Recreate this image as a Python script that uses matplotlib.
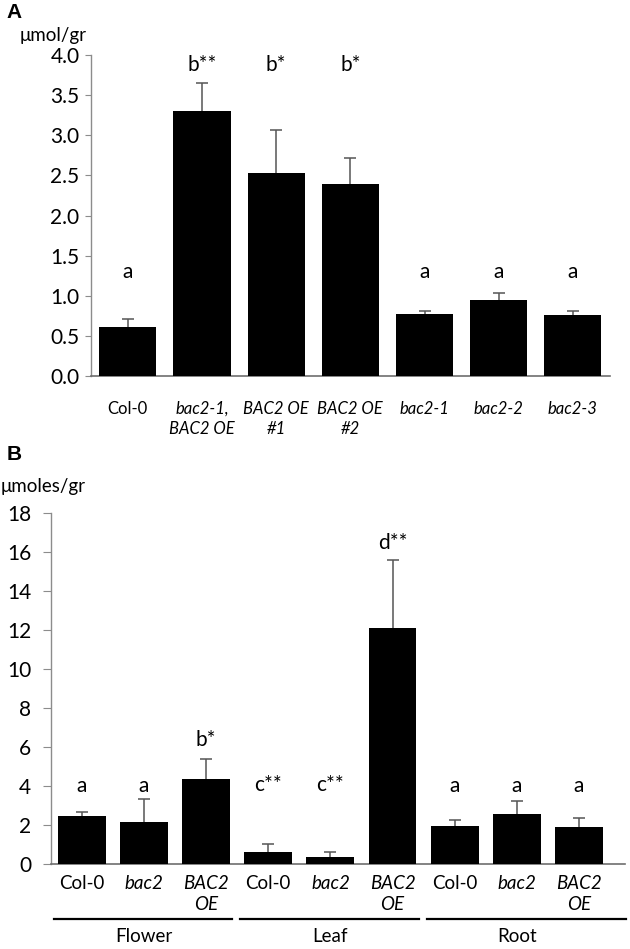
import numpy as np
import matplotlib
matplotlib.use('Agg')
import matplotlib.pyplot as plt
import matplotlib.transforms as mtrans

plt.rcParams['font.family'] = ['Lato', 'DejaVu Sans']

# panel A
a_labels = ['Col-0', 'bac2-1,\nBAC2 OE', 'BAC2 OE\n#1', 'BAC2 OE\n#2', 'bac2-1', 'bac2-2', 'bac2-3']
a_italic = [False, True, True, True, True, True, True]
a_vals = [0.61, 3.30, 2.53, 2.39, 0.77, 0.95, 0.76]
a_err = [0.10, 0.35, 0.53, 0.33, 0.04, 0.08, 0.05]
a_sig = ['a', 'b**', 'b*', 'b*', 'a', 'a', 'a']
a_sig_y = [1.30, 3.87, 3.87, 3.87, 1.30, 1.30, 1.30]

# panel B
b_labels = ['Col-0', 'bac2', 'BAC2\nOE'] * 3
b_italic = [False, True, True] * 3
b_vals = [2.46, 2.17, 4.36, 0.62, 0.38, 12.13, 1.95, 2.58, 1.90]
b_err = [0.23, 1.15, 1.05, 0.41, 0.25, 3.47, 0.31, 0.67, 0.46]
b_sig = ['a', 'a', 'b*', 'c**', 'c**', 'd**', 'a', 'a', 'a']
b_sig_y = [4.0, 4.0, 6.37, 4.05, 4.05, 16.46, 4.0, 4.0, 4.0]
groups = ['Flower', 'Leaf', 'Root']

W, H = 630, 949
fig = plt.figure(figsize=(6.3, 9.49), dpi=100)

def px_axes(x0, x1, ytop, ybot):
    return fig.add_axes([x0 / W, 1 - ybot / H, (x1 - x0) / W, (ybot - ytop) / H])

def style(ax, ticklen, pad_y, pad_x, xsize):
    for s in ['top', 'right']:
        ax.spines[s].set_visible(False)
    ax.spines['left'].set_color('#8c8c8c')
    ax.spines['bottom'].set_color('#6e6e6e')
    ax.spines['left'].set_linewidth(1.0)
    ax.spines['bottom'].set_linewidth(1.2)
    ax.tick_params(axis='y', length=ticklen, color='#8c8c8c', labelsize=15, pad=pad_y)
    ax.tick_params(axis='x', length=0, labelsize=xsize, pad=pad_x)

def bars(ax, vals, err, labels, italic, sig, sig_y):
    x = np.arange(len(vals))
    ax.bar(x, vals, width=0.77, color='black', zorder=3)
    eb = ax.errorbar(x, vals, yerr=[np.zeros(len(err)), err], fmt='none',
                     ecolor='#555555', elinewidth=1.1, capsize=4, capthick=1.1, zorder=2)
    # hide the lower caps sitting on the bar tops
    eb.lines[1][0].set_visible(False)
    ax.set_xticks(x)
    ax.set_xticklabels(labels, linespacing=1.3)
    for t, it in zip(ax.get_xticklabels(), italic):
        if it:
            t.set_style('italic')
    for xi, s, yy in zip(x, sig, sig_y):
        ax.text(xi, yy, s, ha='center', va='center', fontsize=15)

# A
axA = px_axes(90.7, 610, 55, 376)
bars(axA, a_vals, a_err, a_labels, a_italic, a_sig, a_sig_y)
axA.set_ylim(0, 4)
axA.set_yticks(np.arange(0, 4.01, 0.5))
axA.set_yticklabels([f'{v:.1f}' for v in np.arange(0, 4.01, 0.5)])
axA.set_xlim(-0.5, 6.5)
style(axA, 4, 4, 18, 12)

# B
axB = px_axes(50.7, 625, 513.3, 864)
bars(axB, b_vals, b_err, b_labels, b_italic, b_sig, b_sig_y)
axB.set_ylim(0, 18)
axB.set_yticks(np.arange(0, 19, 2))
axB.set_xlim(-0.5, 8.74)
style(axB, 6, 8, 8, 13.5)

# group lines and names under panel B
tr = mtrans.blended_transform_factory(axB.transData, fig.transFigure)
for g, name in enumerate(groups):
    x0 = g * 3 - 0.45
    x1 = g * 3 + 2.42 if g < 2 else 8.75
    axB.plot([x0, x1], [1 - 919.3 / H] * 2, color='black', lw=1.6,
             transform=tr, clip_on=False)
    axB.text(g * 3 + 1, 1 - 936.5 / H, name, ha='center', va='center',
             fontsize=13.5, transform=tr)

fig.text(6 / W, 1 - 13 / H, 'A', fontsize=15, fontweight='bold',
         family='Liberation Sans', va='center', ha='left')
fig.text(20 / W, 1 - 35 / H, 'μmol/gr', fontsize=13.5, va='center', ha='left')
fig.text(7 / W, 1 - 455 / H, 'B', fontsize=15, fontweight='bold',
         family='Liberation Sans', va='center', ha='left')
fig.text(1 / W, 1 - 487 / H, 'μmoles/gr', fontsize=13.5, va='center', ha='left')

fig.savefig('out.png', dpi=100)
